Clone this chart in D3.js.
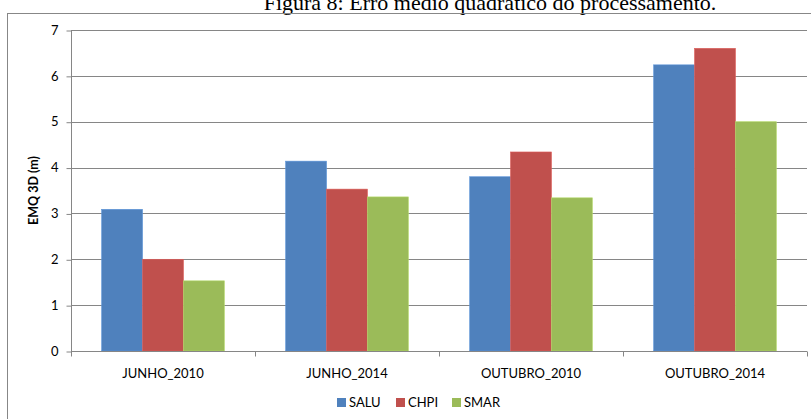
<!DOCTYPE html>
<html>
<head>
<meta charset="utf-8">
<script src="https://cdn.jsdelivr.net/npm/d3@7"></script>
<style>
  body { margin: 0; background: #fff; }
  svg { display: block; }
</style>
</head>
<body>
<div id="chart"></div>
<script>
const categories = ["JUNHO_2010", "JUNHO_2014", "OUTUBRO_2010", "OUTUBRO_2014"];
const seriesNames = ["SALU", "CHPI", "SMAR"];
const salu = [3.09, 4.14, 3.80, 6.24];
const chpi = [2.00, 3.53, 4.34, 6.60];
const smar = [1.53, 3.36, 3.34, 5.00];
const yTicks = [0, 1, 2, 3, 4, 5, 6, 7];
const colors = ["#4F81BD", "#C0504D", "#9BBB59"];

const width = 811;
const height = 419;
const margin = { top: 30, right: 4, bottom: 68, left: 71 };
const innerW = width - margin.left - margin.right;
const innerH = height - margin.top - margin.bottom;

const svg = d3.select("#chart")
  .append("svg")
  .attr("width", width)
  .attr("height", height);

// title, cut off at the top like the picture
svg.append("text")
  .attr("x", 490)
  .attr("y", 10)
  .attr("text-anchor", "middle")
  .style("font-family", "'Liberation Serif', serif")
  .style("font-size", "22px")
  .text("Figura 8: Erro médio quadrático do processamento.");

// chart border
svg.append("rect")
  .attr("x", 7.5)
  .attr("y", 13.5)
  .attr("width", 820)
  .attr("height", 420)
  .attr("fill", "none")
  .attr("stroke", "#878787");

const g = svg.append("g")
  .attr("transform", "translate(" + margin.left + "," + margin.top + ")");

const x0 = d3.scaleBand().domain(categories).range([0, innerW]).paddingInner(0).paddingOuter(0);
// gap width ~75% of a bar, split on both sides
const x1 = d3.scaleBand().domain(seriesNames).range([0, x0.bandwidth()]).paddingInner(0).paddingOuter(0.75);
const y = d3.scaleLinear().domain([0, 7]).range([innerH, 0]);

// gridlines
g.selectAll("line.grid")
  .data(yTicks.filter(d => d > 0))
  .enter()
  .append("line")
  .attr("class", "grid")
  .attr("x1", 0)
  .attr("x2", innerW)
  .attr("y1", d => Math.round(y(d)) + 0.5)
  .attr("y2", d => Math.round(y(d)) + 0.5)
  .attr("stroke", "#868686");

// bars
const table = categories.map((c, i) => ({ key: c, values: [salu[i], chpi[i], smar[i]] }));
const groups = g.selectAll("g.cat")
  .data(table)
  .enter()
  .append("g")
  .attr("transform", d => "translate(" + x0(d.key) + ",0)");

groups.selectAll("rect")
  .data(d => d.values.map((v, j) => ({ s: seriesNames[j], v: v, j: j })))
  .enter()
  .append("rect")
  .attr("x", d => x1(d.s))
  .attr("y", d => y(d.v))
  .attr("width", x1.bandwidth())
  .attr("height", d => innerH - y(d.v))
  .attr("fill", d => colors[d.j])
  .attr("stroke", d => d3.color(colors[d.j]).brighter(0.4))
  .attr("stroke-width", 0.6);

// y axis
const yAxis = g.append("g")
  .attr("transform", "translate(0.5,0)")
  .call(d3.axisLeft(y).tickValues(yTicks).tickSize(5).tickPadding(8).tickFormat(d3.format("d")));
yAxis.select(".domain").attr("stroke", "#868686").attr("d", "M0," + innerH + "V0");
yAxis.selectAll(".tick line").attr("stroke", "#868686").attr("transform", "translate(0,0.5)");
yAxis.selectAll("text")
  .style("font-family", "Lato, 'Open Sans', sans-serif")
  .style("font-size", "13px")
  .attr("fill", "#000");

// x axis
const xAxis = g.append("g")
  .attr("transform", "translate(0," + (innerH + 0.5) + ")");
xAxis.append("line")
  .attr("x1", 0).attr("x2", innerW)
  .attr("stroke", "#868686");
xAxis.selectAll("line.tk")
  .data(categories.concat(["end"]))
  .enter()
  .append("line")
  .attr("class", "tk")
  .attr("x1", (d, i) => Math.round(i * x0.bandwidth()) + 0.5)
  .attr("x2", (d, i) => Math.round(i * x0.bandwidth()) + 0.5)
  .attr("y1", 0)
  .attr("y2", 5)
  .attr("stroke", "#868686");
xAxis.selectAll("text")
  .data(categories)
  .enter()
  .append("text")
  .attr("x", d => x0(d) + x0.bandwidth() / 2)
  .attr("y", 26)
  .attr("text-anchor", "middle")
  .style("font-family", "Lato, 'Open Sans', sans-serif")
  .style("font-size", "13px")
  .text(d => d);

// y axis title
svg.append("text")
  .attr("transform", "translate(38," + (margin.top + innerH / 2) + ") rotate(-90)")
  .attr("text-anchor", "middle")
  .style("font-family", "Lato, 'Open Sans', sans-serif")
  .style("font-size", "12.5px")
  .style("font-weight", "bold")
  .text("EMQ 3D (m)");

// legend
const legendX = [337, 396, 452];
const legend = svg.selectAll("g.legend")
  .data(seriesNames)
  .enter()
  .append("g")
  .attr("transform", (d, i) => "translate(" + legendX[i] + ",398)");
legend.append("rect")
  .attr("width", 9)
  .attr("height", 9)
  .attr("fill", (d, i) => colors[i]);
legend.append("text")
  .attr("x", 12)
  .attr("y", 9)
  .style("font-family", "Lato, 'Open Sans', sans-serif")
  .style("font-size", "13px")
  .text(d => d);
</script>
</body>
</html>
